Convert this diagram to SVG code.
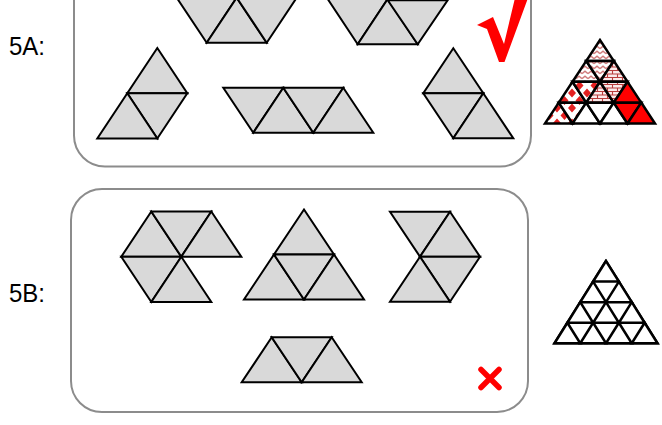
<svg xmlns="http://www.w3.org/2000/svg" width="662" height="425" viewBox="0 0 662 425">
<style>
.box{fill:#fff;stroke:#8c8c8c;stroke-width:2}
.t{fill:#d9d9d9;stroke:#000;stroke-width:2;stroke-linejoin:miter}
.w{fill:#fff;stroke:#000;stroke-width:2.5}
.r{stroke:#000;stroke-width:2.5}
.lbl{font-family:"Liberation Sans",Arial,sans-serif;font-size:26px;fill:#000}
</style>
<defs>
<pattern id="zig" width="6" height="5" patternUnits="userSpaceOnUse">
<rect width="6" height="5" fill="#fff"/>
<path d="M0,3.6 L3,1.2 L6,3.6" stroke="#cf7a7a" stroke-width="1.4" fill="none"/>
</pattern>
<pattern id="brick" width="10" height="7" patternUnits="userSpaceOnUse">
<rect width="10" height="7" fill="#fbeaea"/>
<path d="M0,0.5H10 M0,4H10 M2.5,0.5V4 M7.5,4V7" stroke="#b83c3c" stroke-width="1.1" fill="none"/>
</pattern>
<pattern id="dia" width="15" height="15" patternUnits="userSpaceOnUse" x="2" y="3">
<rect width="15" height="15" fill="#fff"/>
<path d="M7.5,3 L11.5,7.5 L7.5,12 L3.5,7.5Z M0,-4.5 L4,0 L0,4.5 L-4,0Z M15,-4.5 L19,0 L15,4.5 L11,0Z M0,10.5 L4,15 L0,19.5 L-4,15Z M15,10.5 L19,15 L15,19.5 L11,15Z" fill="#e42020"/>
</pattern>
</defs>

<g id="label-5A"><text class="lbl" x="9" y="55" textLength="36" lengthAdjust="spacingAndGlyphs">5A:</text></g>
<g id="label-5B"><text class="lbl" x="9" y="301.7" textLength="36" lengthAdjust="spacingAndGlyphs">5B:</text></g>

<g id="box-5A"><rect class="box" x="74" y="-57" width="457" height="223.5" rx="31"/></g>
<g id="box-5B"><rect class="box" x="71" y="189" width="457" height="223" rx="31"/></g>

<g id="A-top1">
<polygon class="t" points="176.7,-2.3 236.7,-2.3 206.7,42.7"/>
<polygon class="t" points="206.7,42.7 236.7,-2.3 266.7,42.7"/>
<polygon class="t" points="236.7,-2.3 296.7,-2.3 266.7,42.7"/>
</g>
<g id="A-top2">
<polygon class="t" points="327.7,-1 387.7,-1 357.7,44.3"/>
<polygon class="t" points="357.7,44.3 387.7,-1 417.7,44.3"/>
<polygon class="t" points="387.7,0.2 447.7,0.2 417.7,44.3"/>
</g>
<g id="A-left">
<polygon class="t" points="157.3,48 127.3,93.3 187.3,93.3"/>
<polygon class="t" points="127.3,93.3 187.3,93.3 157.3,138.5"/>
<polygon class="t" points="127.3,93.3 97.3,138.5 157.3,138.5"/>
</g>
<g id="A-mid">
<polygon class="t" points="223.3,87.7 283.3,87.7 253.3,132.7"/>
<polygon class="t" points="253.3,132.7 283.3,87.7 313.3,132.7"/>
<polygon class="t" points="283.3,87.7 343.3,87.7 313.3,132.7"/>
<polygon class="t" points="313.3,132.7 343.3,87.7 373.3,132.7"/>
</g>
<g id="A-right">
<polygon class="t" points="453.3,48.3 423.3,93.3 483.3,93.3"/>
<polygon class="t" points="423.3,93.3 483.3,93.3 453.3,138.3"/>
<polygon class="t" points="483.3,93.3 453.3,138.3 513.3,138.3"/>
</g>
<g id="A-check">
<path d="M477,25 L493,17 L504,44 L515,-2 L528,-2 L504.5,62 L499,62 L487,29 Z" fill="#ff0000"/>
</g>

<g id="A-solution">
<polygon class="r" fill="url(#zig)" points="600,40 586.25,60.875 613.75,60.875"/>
<polygon class="r" fill="url(#zig)" points="586.25,60.875 572.5,81.75 600,81.75"/>
<polygon class="r" fill="url(#zig)" points="586.25,60.875 613.75,60.875 600,81.75"/>
<polygon class="r" fill="url(#brick)" points="613.75,60.875 600,81.75 627.5,81.75"/>
<polygon class="r" fill="url(#dia)" points="572.5,81.75 558.75,102.625 586.25,102.625"/>
<polygon class="r" fill="url(#dia)" points="572.5,81.75 600,81.75 586.25,102.625"/>
<polygon class="r" fill="url(#brick)" points="600,81.75 586.25,102.625 613.75,102.625"/>
<polygon class="r" fill="url(#brick)" points="600,81.75 627.5,81.75 613.75,102.625"/>
<polygon class="r" fill="#ff0000" points="627.5,81.75 613.75,102.625 641.25,102.625"/>
<polygon class="r" fill="url(#dia)" points="558.75,102.625 545,123.5 572.5,123.5"/>
<polygon class="r" fill="url(#dia)" points="558.75,102.625 586.25,102.625 572.5,123.5"/>
<polygon class="r" fill="#fff" points="586.25,102.625 572.5,123.5 600,123.5"/>
<polygon class="r" fill="#fff" points="586.25,102.625 613.75,102.625 600,123.5"/>
<polygon class="r" fill="#fff" points="613.75,102.625 600,123.5 627.5,123.5"/>
<polygon class="r" fill="#ff0000" points="613.75,102.625 641.25,102.625 627.5,123.5"/>
<polygon class="r" fill="#ff0000" points="641.25,102.625 627.5,123.5 655,123.5"/>
</g>

<g id="B-1">
<polygon class="t" points="151.3,211.5 121.3,256.7 181.3,256.7"/>
<polygon class="t" points="151.3,211.5 211.3,211.5 181.3,256.7"/>
<polygon class="t" points="211.3,211.5 181.3,256.7 241.3,256.7"/>
<polygon class="t" points="121.3,256.7 181.3,256.7 151.3,302"/>
<polygon class="t" points="181.3,256.7 151.3,302 211.3,302"/>
</g>
<g id="B-2">
<polygon class="t" points="304,209.5 274,254.5 334,254.5"/>
<polygon class="t" points="274,254.5 244,299.5 304,299.5"/>
<polygon class="t" points="274,254.5 334,254.5 304,299.5"/>
<polygon class="t" points="334,254.5 304,299.5 364,299.5"/>
</g>
<g id="B-3">
<polygon class="t" points="390,211.7 450,211.7 420,256.7"/>
<polygon class="t" points="450,211.7 420,256.7 480,256.7"/>
<polygon class="t" points="420,256.7 480,256.7 450,301.7"/>
<polygon class="t" points="420,256.7 390,301.7 450,301.7"/>
</g>
<g id="B-4">
<polygon class="t" points="271.7,337.3 241.7,382.3 301.7,382.3"/>
<polygon class="t" points="271.7,337.3 331.7,337.3 301.7,382.3"/>
<polygon class="t" points="331.7,337.3 301.7,382.3 361.7,382.3"/>
</g>
<g id="B-cross">
<path d="M481,369.5 L499,387.5 M499,369.5 L481,387.5" stroke="#ff0000" stroke-width="5.5" stroke-linecap="round" fill="none"/>
</g>

<g id="B-solution" fill="#fff">
<polygon class="w" points="606,261 554.5,343.3 657.5,343.3"/>
<polygon class="w" points="593.125,281.575 580.25,302.15 606,302.15"/>
<polygon class="w" points="618.875,281.575 606,302.15 631.75,302.15"/>
<polygon class="w" points="606,261 593.125,281.575 618.875,281.575"/>
<polygon class="w" points="580.25,302.15 567.375,322.725 593.125,322.725"/>
<polygon class="w" points="606,302.15 593.125,322.725 618.875,322.725"/>
<polygon class="w" points="631.75,302.15 618.875,322.725 644.625,322.725"/>
<polygon class="w" points="567.375,322.725 554.5,343.3 580.25,343.3"/>
<polygon class="w" points="593.125,322.725 580.25,343.3 606,343.3"/>
<polygon class="w" points="618.875,322.725 606,343.3 631.75,343.3"/>
<polygon class="w" points="644.625,322.725 631.75,343.3 657.5,343.3"/>
</g>
</svg>
